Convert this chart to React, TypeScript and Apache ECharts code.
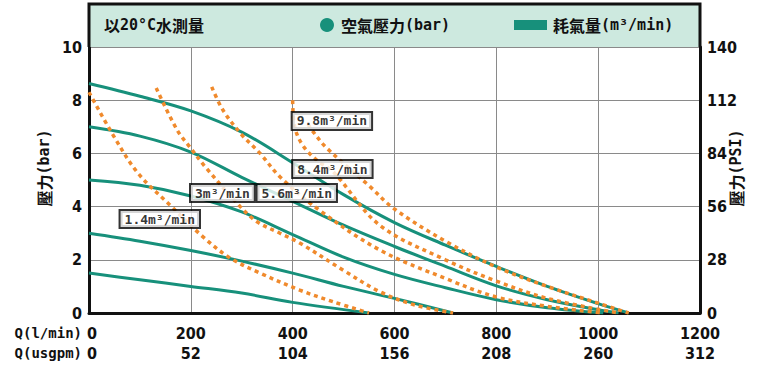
import React, { useEffect, useRef } from "react";
import * as echarts from "echarts";

// Axis ticks
const flowTicksLpm = [0, 200, 400, 600, 800, 1000, 1200];
const flowTicksUsgpm = [0, 52, 104, 156, 208, 260, 312];
const psiTicks = [0, 28, 56, 84, 112, 140];

// Air pressure curves (bar) vs flow (l/min)
const pressure86: [number, number][] = [
  [0, 8.63], [100, 8.15], [200, 7.6], [300, 6.8], [400, 5.65], [500, 4.45],
  [600, 3.4], [700, 2.55], [800, 1.75], [900, 1.0], [1000, 0.35], [1060, 0],
];
const pressure70: [number, number][] = [
  [0, 7.0], [100, 6.65], [200, 6.05], [300, 5.1], [400, 4.2], [500, 3.3],
  [600, 2.5], [700, 1.75], [800, 1.02], [900, 0.5], [1000, 0.12], [1040, 0],
];
const pressure50: [number, number][] = [
  [0, 5.0], [100, 4.8], [200, 4.4], [300, 3.8], [400, 2.95], [500, 2.1],
  [600, 1.45], [700, 0.95], [800, 0.5], [900, 0.2], [1010, 0],
];
const pressure30: [number, number][] = [
  [0, 3.0], [100, 2.7], [200, 2.35], [300, 1.95], [400, 1.5], [500, 1.0],
  [600, 0.55], [715, 0],
];
const pressure15: [number, number][] = [
  [0, 1.5], [100, 1.25], [200, 1.0], [300, 0.75], [400, 0.4], [550, 0],
];

// Air consumption curves (m3/min)
const air14: [number, number][] = [
  [0, 8.3], [47, 6.7], [96, 5.26], [159, 4.06], [224, 2.86], [277, 2.07],
  [336, 1.5], [414, 0.86], [480, 0.42], [550, 0],
];
const air30: [number, number][] = [
  [132, 8.46], [173, 6.88], [198, 6.24], [228, 5.5], [297, 4.0], [330, 3.43],
  [375, 3.0], [414, 2.63], [500, 1.6], [571, 0.8], [640, 0.3], [715, 0],
];
const air56: [number, number][] = [
  [241, 8.5], [263, 7.63], [300, 6.7], [336, 6.0], [375, 5.12], [450, 3.9],
  [571, 2.37], [700, 1.3], [800, 0.6], [900, 0.25], [1010, 0],
];
const air84: [number, number][] = [
  [400, 8.0], [404, 7.0], [420, 6.3], [450, 5.7], [480, 5.3], [571, 3.3],
  [700, 2.0], [800, 1.2], [900, 0.55], [1040, 0],
];
const air98: [number, number][] = [
  [430, 7.1], [440, 6.82], [467, 6.2], [552, 4.75], [597, 3.95], [700, 2.7],
  [801, 1.72], [900, 1.0], [1000, 0.37], [1060, 0],
];

// Curve label anchors [flow, bar, text]
const curveLabels: [number, number, string][] = [
  [139, 3.53, "1.4m³/min"],
  [262, 4.51, "3m³/min"],
  [408, 4.51, "5.6m³/min"],
  [478, 5.41, "8.4m³/min"],
  [477, 7.22, "9.8m³/min"],
];

const GREEN = "#17907b";
const ORANGE = "#f08a2c";
const NUM_FONT = '"DejaVu Sans Condensed", "Liberation Sans Narrow", "DejaVu Sans", sans-serif';
const MONO_FONT = '"DejaVu Sans Mono", "Liberation Mono", monospace';
const CJK_FONT = '"Noto Sans CJK TC", "Noto Sans CJK SC", sans-serif';

const richHead = {
  c: { fontFamily: CJK_FONT, fontWeight: "bold", fontSize: 16, fill: "#111", color: "#111" },
  m: { fontFamily: MONO_FONT, fontWeight: "bold", fontSize: 15, fill: "#111", color: "#111" },
};

export default function App() {
  const ref = useRef<HTMLDivElement>(null);
  useEffect(() => {
    if (!ref.current) return;
    const chart = echarts.init(ref.current, undefined, { renderer: "svg" });
    const greenSeries = [pressure86, pressure70, pressure50, pressure30, pressure15].map((d, i) => ({
      type: "line",
      name: "p" + i,
      data: d,
      smooth: 0.35,
      showSymbol: false,
      lineStyle: { color: GREEN, width: 3 },
      z: 3,
    }));
    const orangeSeries = [air14, air30, air56, air84, air98].map((d, i) => ({
      type: "line",
      name: "a" + i,
      data: d,
      smooth: 0.35,
      showSymbol: false,
      lineStyle: { color: ORANGE, width: 3.5, type: [4, 4] },
      z: 4,
    }));
    const left = 89, right = 700, top = 47, bottom = 313;
    chart.setOption({
      animation: false,
      backgroundColor: "#ffffff",
      grid: { left, right: 766 - right, top, bottom: 369 - bottom, containLabel: false },
      xAxis: {
        type: "value",
        min: 0,
        max: 1200,
        interval: 200,
        axisLine: { show: true, lineStyle: { color: "#111", width: 3 } },
        axisTick: { show: false },
        splitLine: { show: true, lineStyle: { color: "#8a8a8a", width: 1 } },
        axisLabel: {
          margin: 10,
          formatter: (v: number) => {
            const idx = flowTicksLpm.indexOf(v);
            if (idx <= 0) return "";
            return `{a|${v}}\n{a|${flowTicksUsgpm[idx]}}`;
          },
          rich: {
            a: { fontFamily: NUM_FONT, fontWeight: "bold", fontSize: 16, color: "#111", lineHeight: 20 },
          },
        },
      },
      yAxis: [
        {
          type: "value",
          min: 0,
          max: 10,
          interval: 2,
          axisLine: { show: true, lineStyle: { color: "#111", width: 3 } },
          axisTick: { show: false },
          splitLine: { show: true, lineStyle: { color: "#8a8a8a", width: 1 } },
          axisLabel: { fontFamily: NUM_FONT, fontWeight: "bold", fontSize: 16, color: "#111", margin: 7 },
        },
        {
          type: "value",
          min: 0,
          max: 140,
          interval: 28,
          position: "right",
          axisLine: { show: true, lineStyle: { color: "#111", width: 3 } },
          axisTick: { show: false },
          splitLine: { show: false },
          axisLabel: {
            fontFamily: NUM_FONT, fontWeight: "bold", fontSize: 16, color: "#111", margin: 7,
            formatter: (v: number) => (psiTicks.includes(v) ? String(v) : ""),
          },
        },
      ],
      series: [
        ...greenSeries,
        ...orangeSeries,
        {
          type: "scatter",
          name: "labels",
          data: curveLabels.map((l) => ({ value: [l[0], l[1]], name: l[2] })),
          symbolSize: 1,
          itemStyle: { color: "rgba(0,0,0,0)" },
          z: 10,
          label: {
            show: true,
            position: "inside",
            formatter: (p: any) => p.name,
            fontFamily: MONO_FONT,
            fontWeight: "bold",
            fontSize: 13,
            color: "#000",
            backgroundColor: "#ffffff",
            borderColor: "#000",
            borderWidth: 2,
            padding: [2, 4, 1, 4],
          },
        },
      ],
      graphic: [
        { type: "rect", shape: { x: left, y: 4, width: right - left, height: top - 4 }, style: { fill: "#cde9df" }, z: 1 },
        {
          type: "polyline",
          shape: { points: [[left, top], [left, 4], [right, 4], [right, top]] },
          style: { stroke: "#111", lineWidth: 3, fill: "none" },
          z: 5,
        },
        { type: "text", x: 104, y: 25, style: { text: "{c|以}{m|20°C}{c|水測量}", rich: richHead, verticalAlign: "middle" }, z: 6 },
        { type: "circle", shape: { cx: 327, cy: 25, r: 7 }, style: { fill: GREEN }, z: 6 },
        { type: "text", x: 341, y: 25, style: { text: "{c|空氣壓力}{m|(bar)}", rich: richHead, verticalAlign: "middle" }, z: 6 },
        { type: "rect", shape: { x: 514, y: 20, width: 33, height: 10 }, style: { fill: GREEN }, z: 6 },
        { type: "text", x: 553, y: 25, style: { text: "{c|耗氣量}{m|(m³/min)}", rich: richHead, verticalAlign: "middle" }, z: 6 },
        {
          type: "text", x: 44, y: 168, rotation: Math.PI / 2,
          style: { text: "{c|壓力}{m|(bar)}", rich: richHead, align: "center", verticalAlign: "middle" }, z: 6,
        },
        {
          type: "text", x: 736, y: 168, rotation: Math.PI / 2,
          style: { text: "{c|壓力}{m|(PSI)}", rich: richHead, align: "center", verticalAlign: "middle" }, z: 6,
        },
        { type: "text", x: 82, y: 333, style: { text: "Q(l/min)", font: `bold 14px ${MONO_FONT}`, fill: "#111", align: "right", verticalAlign: "middle" }, z: 6 },
        { type: "text", x: 82, y: 353, style: { text: "Q(usgpm)", font: `bold 14px ${MONO_FONT}`, fill: "#111", align: "right", verticalAlign: "middle" }, z: 6 },
        { type: "text", x: 92, y: 333, style: { text: "0", font: `bold 16px ${NUM_FONT}`, fill: "#111", align: "center", verticalAlign: "middle" }, z: 6 },
        { type: "text", x: 92, y: 353, style: { text: "0", font: `bold 16px ${NUM_FONT}`, fill: "#111", align: "center", verticalAlign: "middle" }, z: 6 },
      ],
    });
    return () => chart.dispose();
  }, []);
  return <div ref={ref} style={{ width: 766, height: 369, position: "absolute", left: 0, top: 0 }} />;
}
